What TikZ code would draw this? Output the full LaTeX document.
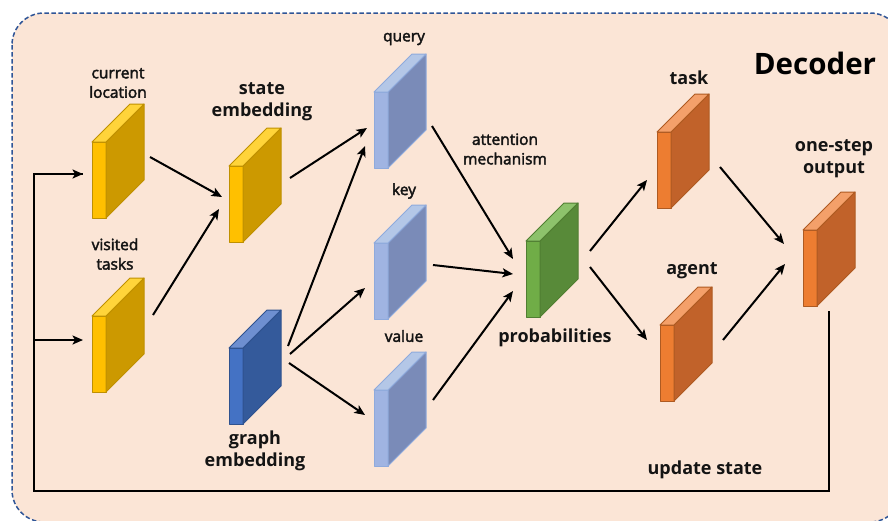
\documentclass[tikz,border=0pt]{standalone}
\usepackage{fontspec}
\setmainfont{Open Sans}
\usetikzlibrary{arrows.meta,calc}
\definecolor{bgc}{HTML}{FBE5D6}
\definecolor{bordc}{HTML}{2F5597}
\definecolor{txt}{HTML}{141414}
% yellow
\definecolor{yfront}{HTML}{FFC000}
\definecolor{yside}{HTML}{CC9900}
\definecolor{ytop}{HTML}{FFD43A}
\definecolor{ybd}{HTML}{BF9000}
% dark blue
\definecolor{dfront}{HTML}{4472C4}
\definecolor{dside}{HTML}{345A9B}
\definecolor{dtop}{HTML}{6E8FD0}
\definecolor{dbd}{HTML}{2F528F}
% light blue
\definecolor{lfront}{HTML}{A0B4E2}
\definecolor{lside}{HTML}{7A8BB8}
\definecolor{ltop}{HTML}{B4C7E7}
\definecolor{lbd}{HTML}{8FAADC}
% green
\definecolor{gfront}{HTML}{70AD47}
\definecolor{gside}{HTML}{588A39}
\definecolor{gtop}{HTML}{8DC26B}
\definecolor{gbd}{HTML}{507E32}
% orange
\definecolor{ofront}{HTML}{ED7D31}
\definecolor{oside}{HTML}{C1622A}
\definecolor{otop}{HTML}{F4A06A}
\definecolor{obd}{HTML}{AE5A21}

\newfontfamily\semifont[FakeBold=2.5]{Open Sans}

\newcommand{\mkslab}[4]{%
  \node[inner sep=0pt, outer sep=0pt, minimum width=52pt, minimum height=114pt, anchor=north west] (#1) at (#2,-#3) {};
  \filldraw[fill=#4front, draw=#4bd, line width=1pt, line join=round]
    ([shift={(0,-38)}]#1.north west) rectangle ([shift={(14,-114)}]#1.north west);
  \filldraw[fill=#4side, draw=#4bd, line width=1pt, line join=round]
    ([shift={(14,-38)}]#1.north west) -- ([shift={(52,0)}]#1.north west) --
    ([shift={(52,-76)}]#1.north west) -- ([shift={(14,-114)}]#1.north west) -- cycle;
  \filldraw[fill=#4top, draw=#4bd, line width=1pt, line join=round]
    ([shift={(0,-38)}]#1.north west) -- ([shift={(38,0)}]#1.north west) --
    ([shift={(52,0)}]#1.north west) -- ([shift={(14,-38)}]#1.north west) -- cycle;
}

\begin{document}
\begin{tikzpicture}[x=1pt,y=1pt,
  arr/.style={line width=2pt, -{Stealth[length=10.5pt,width=9pt,inset=2.5pt]}},
  fb/.style={line width=2.4pt},
  small/.style={font=\fontsize{15.5}{19.5}\selectfont\semifont, text=txt, align=center, inner sep=0pt},
  big/.style={font=\fontsize{18}{22}\selectfont\bfseries, text=txt, align=center, inner sep=0pt}]
\useasboundingbox (0,0) rectangle (888,-520);
\fill[white] (0,0) rectangle (888,-520);
\begin{scope}
\clip (0,0) rectangle (888,-520);
\filldraw[fill=bgc, draw=bordc, line width=1.5pt, dash pattern=on 4.5pt off 2.5pt, rounded corners=32pt] (12,-13) rectangle (902,-522);
\end{scope}

% blocks
\mkslab{cl}{92}{104}{y}
\mkslab{vt}{92}{278}{y}
\mkslab{se}{229}{128}{y}
\mkslab{ge}{229}{310}{d}
\mkslab{q}{374}{54}{l}
\mkslab{k}{374}{205}{l}
\mkslab{v}{374}{352}{l}
\mkslab{pr}{526}{203}{g}
\mkslab{tk}{657}{94}{o}
\mkslab{ag}{660}{287}{o}
\mkslab{out}{803}{192}{o}

% labels
\node[small] (lcl) at (118,-83) {current\\location};
\node[small] (lvt) at (115,-254) {visited\\tasks};
\node[big] (lse) at (262,-102) {state\\embedding};
\node[big] (lge) at (255,-451) {graph\\embedding};
\node[small] (lq) at (404,-39) {query};
\node[small] (lk) at (404,-191) {key};
\node[small] (lv) at (404,-336) {value};
\node[small] (lat) at (505,-149) {attention\\mechanism};
\node[big] (lpr) at (555,-338) {probabilities};
\node[big] (ltk) at (689,-78) {task};
\node[big] (lag) at (692,-271) {agent};
\node[big] (lout) at (834,-159) {one-step\\output};
\node[big] (lup) at (705,-470) {update state};
\node[font=\fontsize{29.5}{32}\selectfont\bfseries, text=black, inner sep=0pt] (ldec) at (815,-63) {Decoder};

% arrows
\draw[arr] ([shift={(58,-53)}]cl.north west) -- ([shift={(-7,-69)}]se.north west);
\draw[arr] ([shift={(61,-37)}]vt.north west) -- ([shift={(-10,-81)}]se.north west);
\draw[arr] ([shift={(61,-50)}]se.north west) -- ([shift={(-7,-74)}]q.north west);
\draw[arr] ([shift={(59,-36)}]ge.north west) -- ([shift={(-9,-92)}]q.north west);
\draw[arr] ([shift={(61,-44)}]ge.north west) -- ([shift={(-9,-83)}]k.north west);
\draw[arr] ([shift={(60,-53)}]ge.north west) -- ([shift={(-9,-63)}]v.north west);
\draw[arr] ([shift={(58,-72)}]q.north west) -- ([shift={(-13,-56)}]pr.north west);
\draw[arr] ([shift={(59,-60)}]k.north west) -- ([shift={(-13,-71)}]pr.north west);
\draw[arr] ([shift={(59,-48)}]v.north west) -- ([shift={(-13,-88)}]pr.north west);
\draw[arr] ([shift={(64,-48)}]pr.north west) -- ([shift={(-10,-86)}]tk.north west);
\draw[arr] ([shift={(64,-64)}]pr.north west) -- ([shift={(-13,-53)}]ag.north west);
\draw[arr] ([shift={(63,-73)}]tk.north west) -- ([shift={(-19,-52)}]out.north west);
\draw[arr] ([shift={(63,-53)}]ag.north west) -- ([shift={(-18,-72)}]out.north west);

% feedback loop
\coordinate (fbc) at (34,-491);
\coordinate (vtin) at ([shift={(-9,-62)}]vt.north west);
\draw[fb] ([shift={(26,-119)}]out.north west) |- (fbc) |- ([shift={(-9,-70)}]cl.north west);
\draw[arr, line width=2.4pt] (fbc |- vtin) -- (vtin);
\draw[arr, line width=2.4pt] ([shift={(0,-70)}]fbc |- cl.north west) -- ([shift={(-9,-70)}]cl.north west);
\end{tikzpicture}
\end{document}
